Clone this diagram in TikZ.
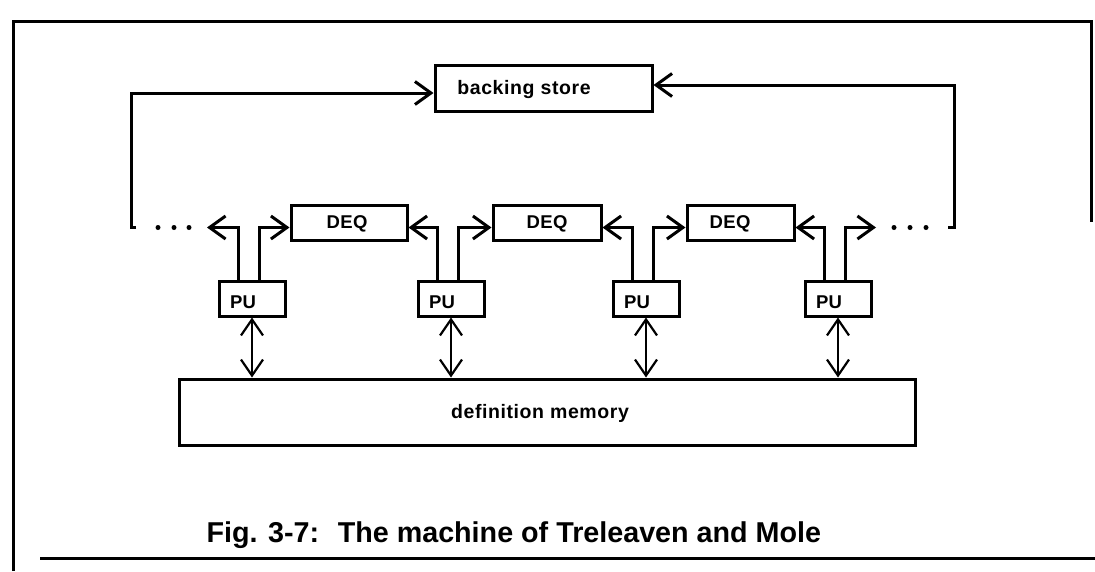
\documentclass[tikz,border=0pt]{standalone}
\usepackage{fontspec}
\setmainfont{Liberation Sans}
\usetikzlibrary{arrows.meta}
\begin{document}
\begin{tikzpicture}[x=1pt,y=-1pt,
  line width=3pt, line join=miter,
  box/.style={draw, line width=3pt, inner sep=0pt, minimum height=35pt},
  tip/.style={-{Straight Barb[length=16pt,width=23pt]}},
  bi/.style={line width=2.2pt,{Straight Barb[length=16pt,width=22pt]}-{Straight Barb[length=16pt,width=22pt]}},
  lbl/.style={font=\fontsize{18.5}{19}\selectfont\bfseries\addfontfeature{LetterSpace=2}, inner sep=0pt},
  big/.style={font=\fontsize{19.5}{21}\selectfont\bfseries\addfontfeature{LetterSpace=3}, inner sep=0pt},
  dot/.style={circle, fill, inner sep=0pt, minimum size=5pt}]
\useasboundingbox (0,0) rectangle (1095,571);

% frame
\draw (13,571) -- (13,21) -- (1091,21) -- (1091,222);
\draw (40,558) -- (1095,558);

% backing store
\node[box, minimum width=217pt, minimum height=46pt] (bs) at (543.5,88) {};
\node[big] (bst) at (524,89) {backing store};

% DEQ boxes
\node[box, minimum width=116pt] (deq1) at (349,222.5) {};
\node[lbl] (deq1t) at (347,224) {DEQ};
\node[box, minimum width=108pt] (deq2) at (547,222.5) {};
\node[lbl] (deq2t) at (547,224) {DEQ};
\node[box, minimum width=107pt] (deq3) at (740.5,222.5) {};
\node[lbl] (deq3t) at (730,224) {DEQ};

% PU boxes
\node[box, minimum width=66pt] (pu1) at (252,298.5) {};
\node[box, minimum width=66pt] (pu2) at (451,298.5) {};
\node[box, minimum width=66pt] (pu3) at (646,298.5) {};
\node[box, minimum width=66pt] (pu4) at (838,298.5) {};
\foreach \i in {1,2,3,4}
  \node[lbl, anchor=west] (pu\i t) at ([xshift=11pt, yshift=-4pt]pu\i.west) {PU};

% definition memory
\node[box, minimum width=736pt, minimum height=66pt] (mem) at (547,412) {};
\node[big] (memt) at (540,413) {definition memory};

% dots and free ends
\coordinate (la) at (207,227.5);
\coordinate (ra) at (876,227.5);
\coordinate (lc) at (136,227.5);
\coordinate (rc) at (948,227.5);
\node[dot] (d1) at (158,227.5) {};
\node[dot] (d2) at (174,227.5) {};
\node[dot] (d3) at (189,227.5) {};
\node[dot] (d4) at (894,227.5) {};
\node[dot] (d5) at (910,227.5) {};
\node[dot] (d6) at (926,227.5) {};

% PU to DEQ connections
\draw[tip] ([xshift=21pt]pu1.north west) |- (la);
\draw[tip] ([xshift=42pt]pu1.north west) |- ([yshift=-5pt]deq1.west);
\draw[tip] ([xshift=21pt]pu2.north west) |- ([yshift=-5pt]deq1.east);
\draw[tip] ([xshift=42pt]pu2.north west) |- ([yshift=-5pt]deq2.west);
\draw[tip] ([xshift=21pt]pu3.north west) |- ([yshift=-5pt]deq2.east);
\draw[tip] ([xshift=42pt]pu3.north west) |- ([yshift=-5pt]deq3.west);
\draw[tip] ([xshift=21pt]pu4.north west) |- ([yshift=-5pt]deq3.east);
\draw[tip] ([xshift=42pt]pu4.north west) |- (ra);

% loops to backing store
\draw[tip] (lc) -- ++(-5,0) |- ([yshift=-5pt]bs.west);
\draw[tip] (rc) -- ++(6,0) |- ([yshift=3pt]bs.east);

% PU to definition memory
\foreach \i in {1,2,3,4}
  \draw[bi] (pu\i.south) -- (pu\i.south |- mem.north);

% caption
\node[font=\fontsize{28.7}{30}\selectfont\bfseries, anchor=base west, inner sep=0pt] (cap) at (205,542) {Fig. 3-7:~ The machine of Treleaven and Mole};
\end{tikzpicture}
\end{document}
